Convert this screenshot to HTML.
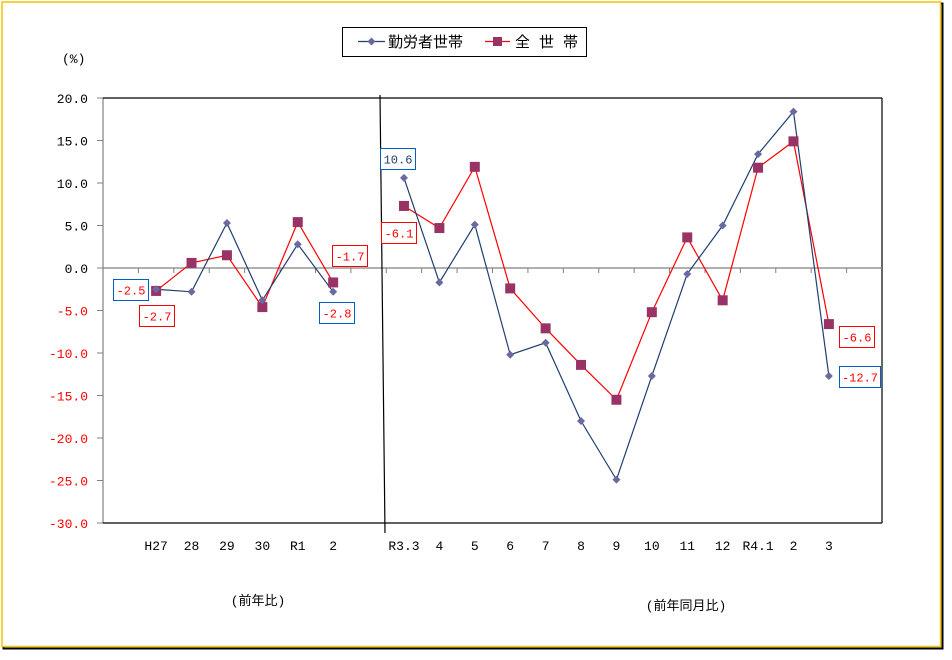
<!DOCTYPE html>
<html><head><meta charset="utf-8"><style>
html,body{margin:0;padding:0;background:#fff;}
svg{display:block;font-family:"Liberation Mono","Noto Sans CJK JP",monospace;}
</style></head><body>
<svg width="952" height="660" viewBox="0 0 952 660" xmlns="http://www.w3.org/2000/svg">
<rect x="0" y="0" width="952" height="660" fill="#fff"/>
<rect x="3.5" y="3.5" width="939" height="645" fill="none" stroke="#000" stroke-width="2"/>
<rect x="2" y="2" width="938.5" height="644.5" fill="#fff" stroke="#f5c400" stroke-width="1.5"/>
<rect x="342.5" y="27.5" width="244" height="29" fill="#fff" stroke="#000" stroke-width="1"/>
<line x1="358" y1="41.5" x2="385" y2="41.5" stroke="#1f3f6f" stroke-width="1.3"/>
<polygon points="371.5,37.5 375.5,41.5 371.5,45.5 367.5,41.5" fill="#6a6aa0"/>
<text x="388" y="47" font-size="15" fill="#000">勤労者世帯</text>
<line x1="485" y1="41.5" x2="510" y2="41.5" stroke="#ff0000" stroke-width="1.3"/>
<rect x="493" y="37" width="9" height="9" fill="#993366"/>
<text x="515" y="47" font-size="15" fill="#000">全 世 帯</text>
<text x="62" y="63" font-size="13" fill="#000">(%)</text>
</svg>
<script>
(function(){
var svg=document.querySelector('svg');var NS='http://www.w3.org/2000/svg';
function el(t,a,txt){var e=document.createElementNS(NS,t);for(var k in a)e.setAttribute(k,a[k]);if(txt!=null)e.textContent=txt;svg.appendChild(e);return e;}
var L=103,R=882,T=98,B=523,W=(R-L)/22;
function Y(v){return 268-v*8.5;}
function X(i){return L+W*(i+0.5);}
for(var v=20;v>=-30;v-=5){var y=Y(v);
 el('line',{x1:97,y1:y,x2:L,y2:y,stroke:'#808080','stroke-width':1});
 el('text',{x:88,y:y+5,'font-size':13,'text-anchor':'end',fill:v<0?'#ff0000':'#000'},v.toFixed(1));}
el('line',{x1:L,y1:T,x2:L,y2:B,stroke:'#808080','stroke-width':1.2});
el('line',{x1:L,y1:T,x2:R,y2:T,stroke:'#000','stroke-width':1.2});
el('line',{x1:R,y1:T,x2:R,y2:B,stroke:'#000','stroke-width':1.2});
el('line',{x1:L,y1:B,x2:R,y2:B,stroke:'#000','stroke-width':1.2});
el('line',{x1:L,y1:268,x2:R,y2:268,stroke:'#808080','stroke-width':1.2});
for(var k=1;k<22;k++){var x=L+W*k;el('line',{x1:x,y1:268,x2:x,y2:273,stroke:'#808080','stroke-width':1});}
el('line',{x1:380,y1:95,x2:385,y2:533,stroke:'#000','stroke-width':1.2});
var cats={1:'H27',2:'28',3:'29',4:'30',5:'R1',6:'2',8:'R3.3',9:'4',10:'5',11:'6',12:'7',13:'8',14:'9',15:'10',16:'11',17:'12',18:'R4.1',19:'2',20:'3'};
for(var i in cats)el('text',{x:X(+i),y:550,'font-size':13,'text-anchor':'middle',fill:'#000'},cats[i]);
el('text',{x:258,y:605,'font-size':13,'text-anchor':'middle',fill:'#000'},'(前年比)');
el('text',{x:686,y:610,'font-size':13,'text-anchor':'middle',fill:'#000'},'(前年同月比)');
var blue=[-2.5,-2.8,5.3,-3.8,2.8,-2.8],blue2=[10.6,-1.7,5.1,-10.2,-8.8,-18.0,-24.9,-12.7,-0.7,5.0,13.4,18.4,-12.7];
var red=[-2.7,0.6,1.5,-4.6,5.4,-1.7],red2=[7.3,4.7,11.9,-2.4,-7.1,-11.4,-15.5,-5.2,3.6,-3.8,11.8,14.9,-6.6];
function series(d,start,col){var p=d.map(function(v,j){return X(start+j)+','+Y(v);}).join(' ');el('polyline',{points:p,fill:'none',stroke:col,'stroke-width':1.2});}
series(red,1,'#ff0000');series(red2,8,'#ff0000');series(blue,1,'#1f3f6f');series(blue2,8,'#1f3f6f');
function sq(d,start){d.forEach(function(v,j){var x=X(start+j),y=Y(v);el('rect',{x:x-5,y:y-5,width:10,height:10,fill:'#993366'});});}
function dm(d,start){d.forEach(function(v,j){var x=X(start+j),y=Y(v);el('polygon',{points:(x)+','+(y-4)+' '+(x+4)+','+y+' '+x+','+(y+4)+' '+(x-4)+','+y,fill:'#6a6aa0'});});}
sq(red,1);sq(red2,8);dm(blue,1);dm(blue2,8);
function lab(x1,y1,x2,y2,bc,tc,t){el('rect',{x:x1+0.5,y:y1+0.5,width:x2-x1,height:y2-y1,fill:'#fff',stroke:bc,'stroke-width':1});
 el('text',{x:(x1+x2)/2+0.5,y:(y1+y2)/2+5,'font-size':12,'text-anchor':'middle',fill:tc},t);}
lab(113,279,148,300,'#0060c0','#ff0000','-2.5');
lab(139,305,174,326,'#ff0000','#ff0000','-2.7');
lab(332,245,367,266,'#ff0000','#ff0000','-1.7');
lab(319,302,354,323,'#0060c0','#ff0000','-2.8');
lab(380,148,415,169,'#0060c0','#1f3f6f','10.6');
lab(381,222,416,243,'#ff0000','#ff0000','-6.1');
lab(839,326,874,347,'#ff0000','#ff0000','-6.6');
lab(839,366,880,387,'#0060c0','#ff0000','-12.7');
})();
</script>
</body></html>
